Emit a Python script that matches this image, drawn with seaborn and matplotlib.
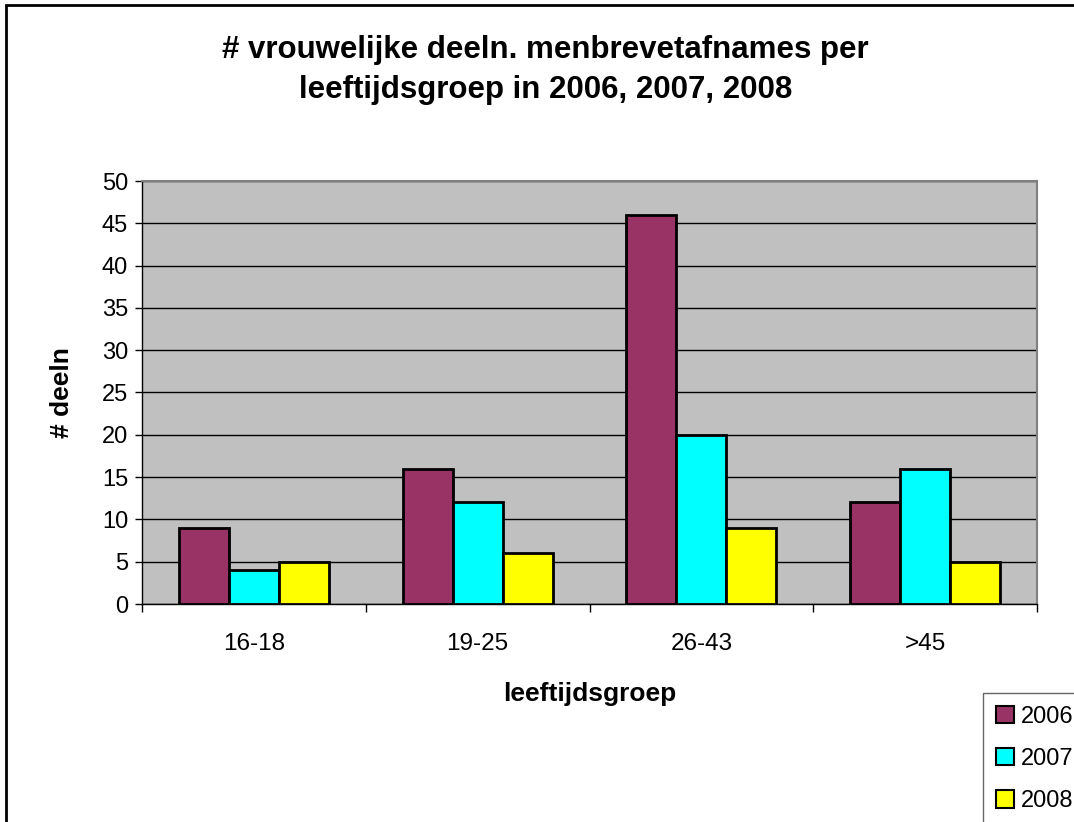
import matplotlib
matplotlib.use("Agg")
import matplotlib.pyplot as plt
from matplotlib.patches import Rectangle, Patch
import seaborn as sns
import pandas as pd

groepen = ["16-18", "19-25", "26-43", ">45"]
jaren = ["2006", "2007", "2008"]
deeln_2006 = [9, 16, 46, 12]
deeln_2007 = [4, 12, 20, 16]
deeln_2008 = [5, 6, 9, 5]
kleuren = ["#993366", "#00FFFF", "#FFFF00"]

df = pd.DataFrame({
    "groep": groepen * 3,
    "jaar": [j for j in jaren for _ in groepen],
    "deeln": deeln_2006 + deeln_2007 + deeln_2008,
})

sns.set_style("white")
plt.rcParams["font.family"] = ["Liberation Sans", "DejaVu Sans"]
plt.rcParams["text.color"] = "black"
plt.rcParams["axes.labelcolor"] = "black"
plt.rcParams["xtick.color"] = "black"
plt.rcParams["ytick.color"] = "black"

fig = plt.figure(figsize=(10.74, 8.22), dpi=100)
ax = fig.add_axes([142 / 1074, 218 / 822, 895 / 1074, 423 / 822])
ax.set_facecolor("#C0C0C0")

sns.barplot(data=df, x="groep", y="deeln", hue="jaar", palette=kleuren,
            width=0.67, gap=0, edgecolor="black", linewidth=2,
            saturation=1, legend=False, ax=ax, zorder=3)

ax.set_ylim(0, 50)
ax.set_yticks(range(0, 51, 5))
ax.set_xlim(-0.5, 3.5)
ax.yaxis.grid(True, color="black", linewidth=1, zorder=1)
ax.set_axisbelow(True)
for s in ["top", "right"]:
    ax.spines[s].set_color("#808080")
    ax.spines[s].set_linewidth(1.5)
for s in ["left", "bottom"]:
    ax.spines[s].set_color("black")
    ax.spines[s].set_linewidth(1)

ax.tick_params(axis="y", labelsize=17, length=5, width=1, direction="out", left=True, pad=5)
ax.set_xticks([-0.5, 0.5, 1.5, 2.5, 3.5], minor=True)
ax.tick_params(axis="x", which="major", length=0, labelsize=17.5, pad=21)
ax.tick_params(axis="x", which="minor", length=6, width=1, direction="out", bottom=True)

ax.set_xlabel("leeftijdsgroep", fontsize=19, fontweight="bold", labelpad=19)
ax.set_ylabel("# deeln", fontsize=19, fontweight="bold", labelpad=20)

fig.text(0.508, 1 - 50 / 822, "# vrouwelijke deeln. menbrevetafnames per",
         ha="center", va="center", fontsize=22.5, fontweight="bold")
fig.text(0.508, 1 - 90 / 822, "leeftijdsgroep in 2006, 2007, 2008",
         ha="center", va="center", fontsize=22.5, fontweight="bold")

# rand om de figuur
fig.patches.append(Rectangle((6 / 1074, -0.01), 1.1, 1.0 - 5 / 822 + 0.01,
                             transform=fig.transFigure, fill=False,
                             edgecolor="black", linewidth=2))

handles = [Patch(facecolor=c, edgecolor="black", linewidth=1.5) for c in kleuren]
leg = fig.legend(handles, jaren, loc="upper left", bbox_to_anchor=(983 / 1074, 1 - 693 / 822),
                 fontsize=17, frameon=True, fancybox=False, edgecolor="#404040",
                 handlelength=0.75, handleheight=0.75, handletextpad=0.3,
                 labelspacing=0.85, borderpad=0.55, borderaxespad=0)
leg.get_frame().set_linewidth(1)

fig.savefig("out.png", dpi=100)
